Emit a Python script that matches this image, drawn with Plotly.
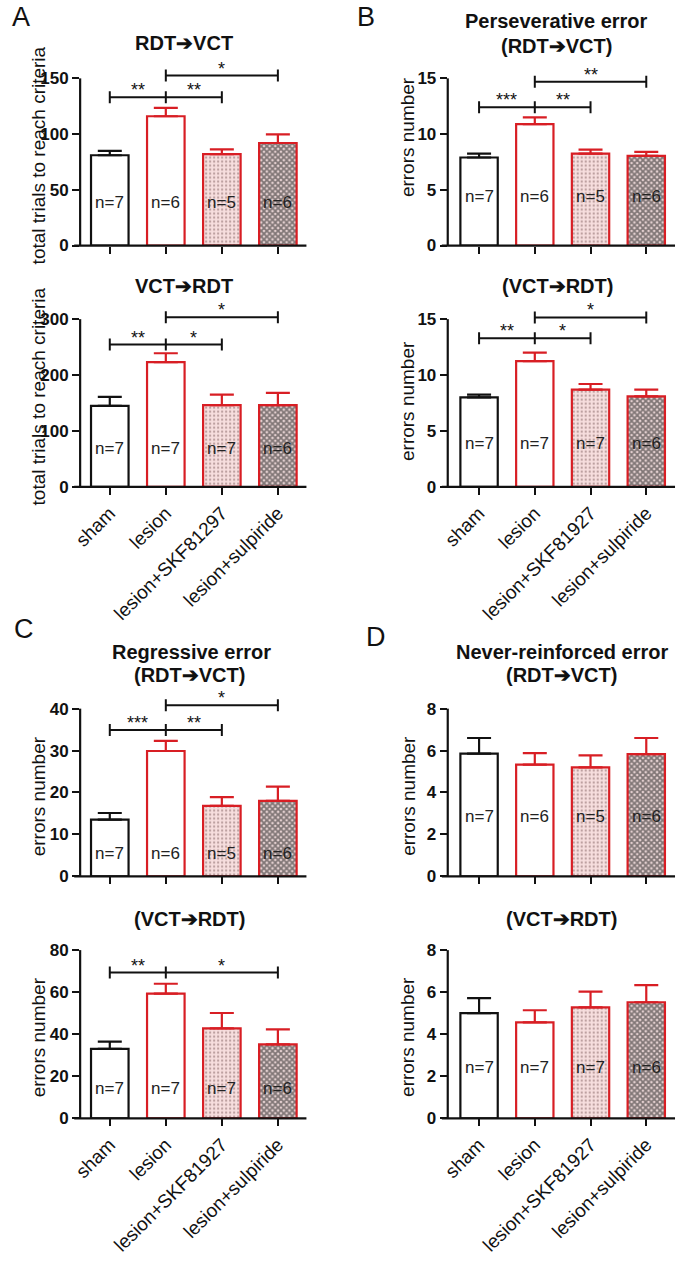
import plotly.graph_objects as go

W, H = 677, 1263
FONT = "Liberation Sans, Arial, sans-serif"
RED = "#d81e24"
BLACK = "#111111"

groups_A = ["sham", "lesion", "lesion+SKF81297", "lesion+sulpiride"]
groups = ["sham", "lesion", "lesion+SKF81927", "lesion+sulpiride"]

n_rdt_vct = [7, 6, 5, 6]
n_vct_rdt = [7, 7, 7, 6]

A1_mean = [81, 116, 82, 92]
A1_sem = [4, 7.5, 4.3, 7.7]
A2_mean = [145, 223, 146, 146]
A2_sem = [16, 16, 19, 22]
B1_mean = [7.9, 10.9, 8.25, 8.05]
B1_sem = [0.35, 0.6, 0.35, 0.35]
B2_mean = [8.0, 11.25, 8.7, 8.1]
B2_sem = [0.25, 0.75, 0.5, 0.6]
C1_mean = [13.5, 29.9, 16.8, 18.0]
C1_sem = [1.6, 2.4, 2.1, 3.4]
C2_mean = [33, 59.3, 42.8, 35.2]
C2_sem = [3.5, 4.7, 7.3, 7.1]
D1_mean = [5.85, 5.33, 5.2, 5.83]
D1_sem = [0.75, 0.55, 0.57, 0.77]
D2_mean = [5.0, 4.56, 5.28, 5.52]
D2_sem = [0.72, 0.58, 0.75, 0.82]

# significance brackets: (left, right, middle tick or None, height, [(x, stars), ...])
A1_sig = [(0, 2, 1, 133, [(0.5, "**"), (1.5, "**")]), (1, 3, None, 152.5, [(2, "*")])]
A2_sig = [(0, 2, 1, 254.6, [(0.5, "**"), (1.5, "*")]), (1, 3, None, 303.6, [(2, "*")])]
B1_sig = [(0, 2, 1, 12.4, [(0.5, "***"), (1.5, "**")]), (1, 3, None, 14.7, [(2, "**")])]
B2_sig = [(0, 2, 1, 13.3, [(0.5, "**"), (1.5, "*")]), (1, 3, None, 15.15, [(2, "*")])]
C1_sig = [(0, 2, 1, 34.9, [(0.5, "***"), (1.5, "**")]), (1, 3, None, 40.8, [(2, "*")])]
C2_sig = [(0, 3, 1, 69.3, [(0.5, "**"), (2, "*")])]

panels = [
    dict(mean=A1_mean, sem=A1_sem, n=n_rdt_vct, col=0, row=0, ticks=[0, 50, 100, 150], cats=groups_A,
         ytitle="total trials to reach criteria", ty=157, nlab=39, sig=A1_sig),
    dict(mean=A2_mean, sem=A2_sem, n=n_vct_rdt, col=0, row=1, ticks=[0, 100, 200, 300], cats=groups_A,
         ytitle="total trials to reach criteria", ty=400, nlab=69, sig=A2_sig),
    dict(mean=B1_mean, sem=B1_sem, n=n_rdt_vct, col=1, row=0, ticks=[0, 5, 10, 15], cats=groups,
         ytitle="errors number", ty=138, nlab=4.4, sig=B1_sig),
    dict(mean=B2_mean, sem=B2_sem, n=n_vct_rdt, col=1, row=1, ticks=[0, 5, 10, 15], cats=groups,
         ytitle="errors number", ty=404, nlab=3.9, sig=B2_sig),
    dict(mean=C1_mean, sem=C1_sem, n=n_rdt_vct, col=0, row=2, ticks=[0, 10, 20, 30, 40], cats=groups,
         ytitle="errors number", ty=803, nlab=5.4, sig=C1_sig),
    dict(mean=C2_mean, sem=C2_sem, n=n_vct_rdt, col=0, row=3, ticks=[0, 20, 40, 60, 80], cats=groups,
         ytitle="errors number", ty=1046, nlab=14.4, sig=C2_sig),
    dict(mean=D1_mean, sem=D1_sem, n=n_rdt_vct, col=1, row=2, ticks=[0, 2, 4, 6, 8], cats=groups,
         ytitle="errors number", ty=802, nlab=2.87, sig=[]),
    dict(mean=D2_mean, sem=D2_sem, n=n_vct_rdt, col=1, row=3, ticks=[0, 2, 4, 6, 8], cats=groups,
         ytitle="errors number", ty=1045, nlab=2.44, sig=[]),
]

# pixel geometry: (zero line, top tick, top of plotting area)
row_geom = [(247.5, 79, 56), (490.7, 321.7, 296), (883.3, 714.3, 690), (1127.3, 957.7, 934)]
# x: (left px, right px, position of first category px, spacing px)
col_geom = [(73, 302, 103, 56.7), (445, 675, 476.7, 56.4)]
ytitle_x = [31, 405]

bar_fill = ["white", "white", "#f6dcdc", "#8a8080"]
bar_line = [BLACK, RED, RED, RED]
patterns = [
    dict(shape=""),
    dict(shape=""),
    dict(shape=".", fgcolor="#7a5a5a", bgcolor="#f7dede", size=4, solidity=0.25),
    dict(shape="x", fgcolor="#1a1a1a", bgcolor="#e6d2d2", size=4, solidity=0.7),
]

fig = go.Figure()
shapes = []
annotations = []

for k, p in enumerate(panels):
    idx = k + 1
    xa = "x" if idx == 1 else f"x{idx}"
    ya = "y" if idx == 1 else f"y{idx}"
    zero, tick_px, top_px = row_geom[p["row"]]
    left, right, first, step = col_geom[p["col"]]
    maxtick = p["ticks"][-1]
    ytop = maxtick * (zero - top_px) / (zero - tick_px)
    x0r = -(first - left) / step
    x1r = x0r + (right - left) / step

    for i in range(4):
        fig.add_trace(go.Bar(
            x=[i], y=[p["mean"][i]], width=0.67,
            marker=dict(color=bar_fill[i], line=dict(color=bar_line[i], width=2.2),
                        pattern=patterns[i]),
            error_y=dict(type="data", symmetric=False, array=[p["sem"][i]], arrayminus=[0],
                         color=bar_line[i], thickness=2.2, width=12),
            xaxis=xa, yaxis=ya, showlegend=False, hoverinfo="skip",
        ))
        annotations.append(dict(x=i, y=p["nlab"], xref=xa, yref=ya, text=f"n={p['n'][i]}",
                                xanchor="center", yanchor="middle",
                                showarrow=False, font=dict(size=17, family=FONT, color="#222")))

    bottom = p["row"] in (1, 3)
    xkey = "xaxis" if idx == 1 else f"xaxis{idx}"
    ykey = "yaxis" if idx == 1 else f"yaxis{idx}"
    fig.layout[xkey] = dict(
        domain=[left / W, right / W], range=[x0r, x1r], anchor=ya,
        tickvals=[0, 1, 2, 3], ticktext=p["cats"], showticklabels=bottom, tickangle=-45,
        ticks="outside", ticklen=7, tickwidth=2, tickcolor=BLACK,
        showline=False, showgrid=False, zeroline=False, fixedrange=True,
        tickfont=dict(size=19, family=FONT, color=BLACK),
    )
    fig.layout[ykey] = dict(
        domain=[1 - zero / H, 1 - top_px / H], range=[0, ytop], anchor=xa,
        tickvals=p["ticks"], ticks="outside", ticklen=7, tickwidth=2, tickcolor=BLACK,
        showline=False, showgrid=False, zeroline=False, fixedrange=True,
        tickfont=dict(size=17, family=FONT, color=BLACK, weight="bold"),
    )
    # axis lines
    shapes.append(dict(type="line", xref="paper", yref="paper",
                       x0=left / W, x1=left / W, y0=1 - zero / H, y1=1 - tick_px / H,
                       line=dict(color=BLACK, width=2.2)))
    shapes.append(dict(type="line", xref="paper", yref="paper",
                       x0=(left - 6) / W, x1=right / W, y0=1 - zero / H, y1=1 - zero / H,
                       line=dict(color=BLACK, width=2.2)))
    # y title
    annotations.append(dict(x=ytitle_x[p["col"]] / W, y=1 - p["ty"] / H, xref="paper", yref="paper",
                            text=p["ytitle"], textangle=-90, showarrow=False,
                            xanchor="center", yanchor="middle",
                            font=dict(size=19, family=FONT, color=BLACK)))
    # significance brackets
    for (a, b, m, h, stars) in p["sig"]:
        shapes.append(dict(type="line", xref=xa, yref=ya, x0=a, x1=b, y0=h, y1=h,
                           line=dict(color=BLACK, width=2)))
        for tx in [a, b] + ([m] if m is not None else []):
            shapes.append(dict(type="line", xref=xa, yref=ya, x0=tx, x1=tx,
                               ysizemode="pixel", yanchor=h, y0=-6, y1=6,
                               line=dict(color=BLACK, width=2)))
        for (sx, st) in stars:
            annotations.append(dict(x=sx, y=h, xref=xa, yref=ya, text=st, showarrow=False,
                                    xanchor="center", yanchor="middle", yshift=7,
                                    font=dict(size=18, family=FONT, color=BLACK)))

# panel titles
titles = [
    ("RDT➔VCT", 178, 43), ("VCT➔RDT", 178, 288),
    ("Perseverative error", 555, 21), ("(RDT➔VCT)", 555, 46), ("(VCT➔RDT)", 556, 288),
    ("Regressive error", 186, 657), ("(RDT➔VCT)", 184, 680), ("(VCT➔RDT)", 184, 926),
    ("Never-reinforced error", 561, 657), ("(RDT➔VCT)", 560, 680), ("(VCT➔RDT)", 560, 926),
]
for t, x, y in titles:
    annotations.append(dict(x=x / W, y=1 - y / H, xref="paper", yref="paper", text=t,
                            xanchor="center", yanchor="middle",
                            showarrow=False, font=dict(size=20, family=FONT, color=BLACK, weight="bold")))

letters = [("A", 13, 17), ("B", 362, 17), ("C", 16, 634), ("D", 372, 642)]
for t, x, y in letters:
    annotations.append(dict(x=x / W, y=1 - y / H, xref="paper", yref="paper", text=t,
                            xanchor="center", yanchor="middle",
                            showarrow=False, font=dict(size=27, family=FONT, color=BLACK)))

fig.update_layout(
    width=W, height=H, margin=dict(l=0, r=0, t=0, b=0),
    paper_bgcolor="white", plot_bgcolor="white", barmode="overlay",
    shapes=shapes, annotations=annotations, showlegend=False,
    font=dict(family=FONT, color=BLACK), hovermode=False,
)

fig.write_html("out.html", config={"displayModeBar": False, "staticPlot": True},
               post_script="document.body.style.margin='0px';")
